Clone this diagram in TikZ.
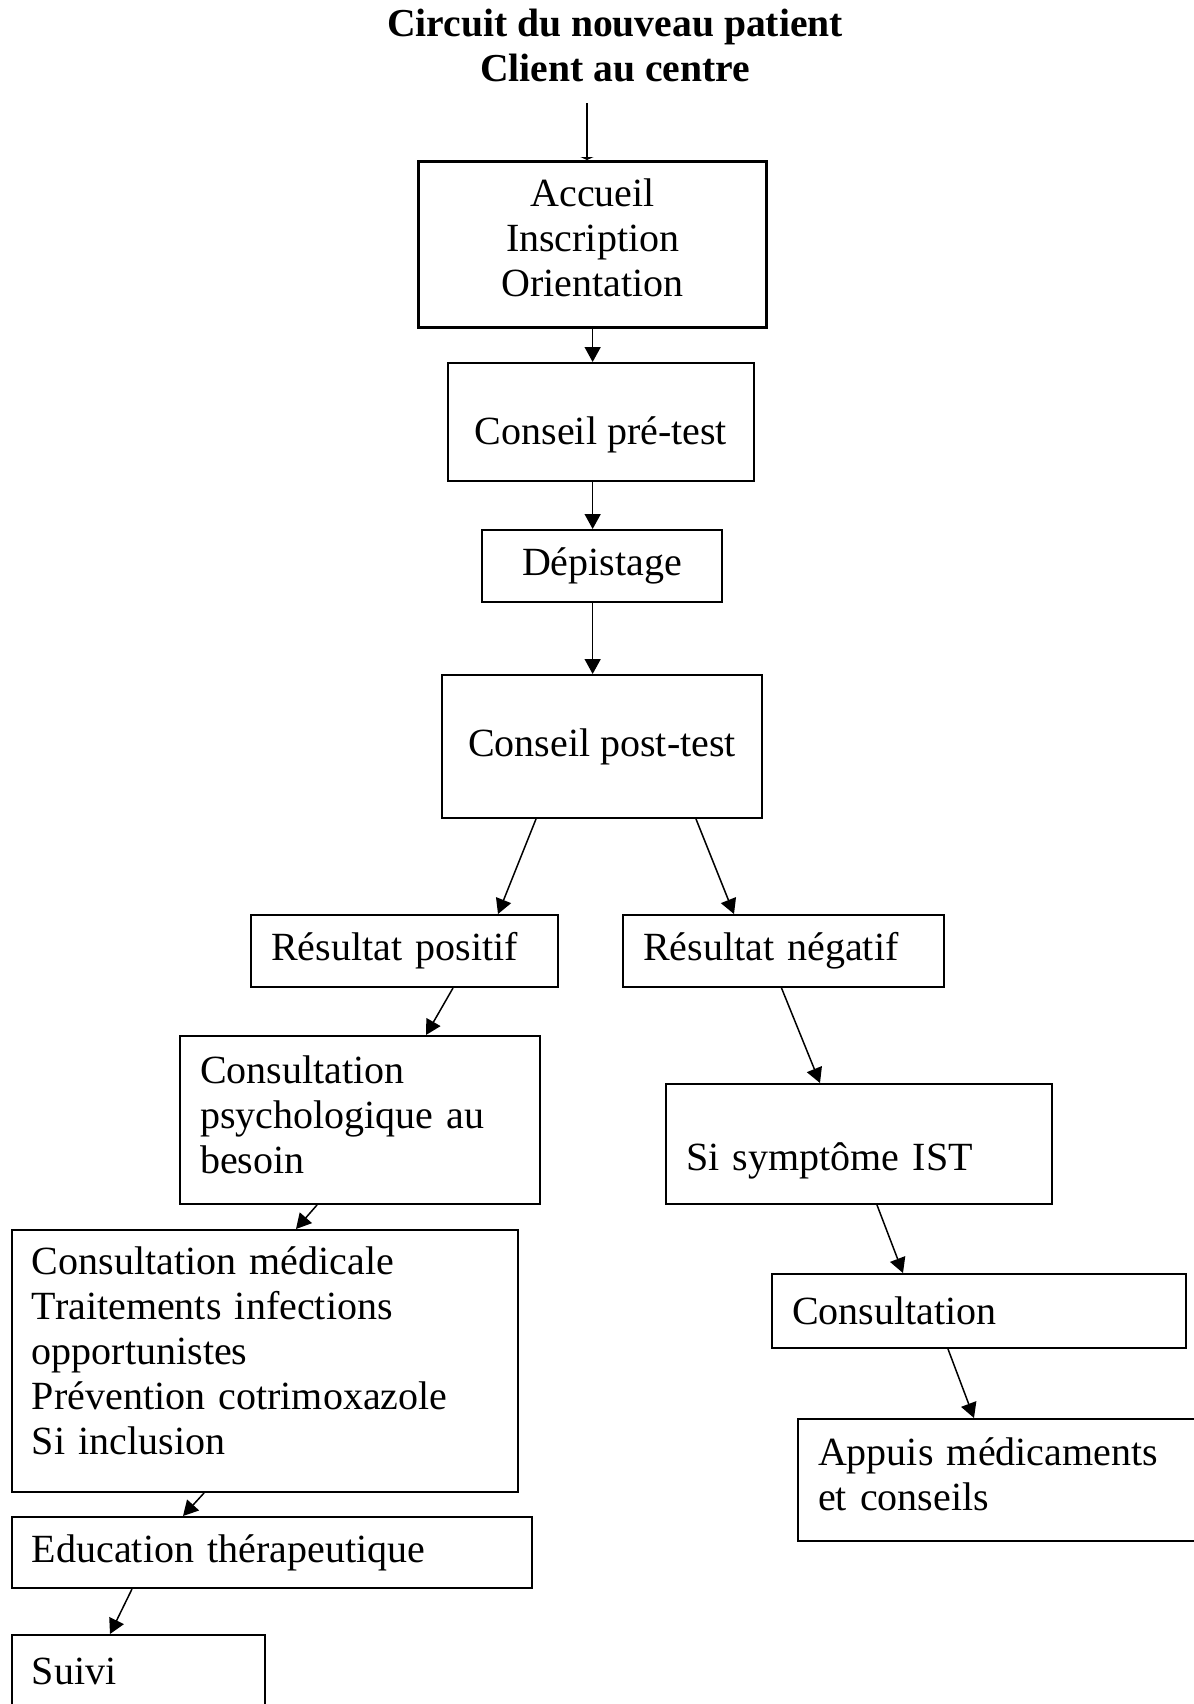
\documentclass[tikz,border=0pt]{standalone}
\usepackage{fontspec}
\setmainfont{Liberation Serif}
\usetikzlibrary{arrows.meta}

\begin{document}
\begin{tikzpicture}[x=0.5pt, y=-0.5pt,
		>={Triangle[length=7.5pt,width=8pt]},
		arr/.style={->, line width=0.75pt},
		titre/.style={font=\fontsize{19.8}{22.5}\selectfont\bfseries, inner sep=0pt, anchor=base},
		cbox/.style={draw, line width=1pt, inner sep=0pt, anchor=north west, align=center, font=\fontsize{20}{22.5}\selectfont},
		lbox/.style={draw, line width=1pt, inner xsep=10pt, inner ysep=0pt, anchor=north west, align=left, font=\fontsize{20}{22.5}\selectfont}]

				\useasboundingbox (0,0) rectangle (1194,1704);

				\node[titre] (t1) at (615,36) {Circuit du nouveau patient};
				\node[titre] (t2) at (615,81.5) {Client au centre};
				\coordinate (entree) at (587,103);

				% colonne centrale
				\node[cbox, line width=1.65pt, minimum width=174pt, minimum height=83pt, text height=52pt] (acc) at (417,160) {Accueil\\Inscription\\Orientation};
				\node[cbox, minimum width=153pt, minimum height=59pt, text height=27pt] (pre) at (447,362) {Conseil pré-test};
				\node[cbox, minimum width=120pt, minimum height=36pt] (dep) at (481,529) {Dépistage};
				\node[cbox, minimum width=160pt, minimum height=71.5pt] (post) at (441,674) {Conseil post-test};

				% branche positive
				\node[lbox, minimum width=153.5pt, text width=133.5pt, minimum height=36pt] (pos) at (250,914) {Résultat positif};
				\node[lbox, minimum width=180pt, text width=160pt, minimum height=84pt, text height=8.3pt] (psy) at (179,1035) {Consultation\\psychologique au\\besoin};
				\node[lbox, minimum width=253pt, text width=233pt, minimum height=131pt, text height=4pt] (med) at (11,1229) {Consultation médicale\\Traitements infections\\opportunistes\\Prévention cotrimoxazole\\Si inclusion};
				\node[lbox, minimum width=260pt, text width=240pt, minimum height=35.5pt] (edu) at (11,1516) {Education thérapeutique};
				\node[lbox, minimum width=126.5pt, text width=106.5pt, minimum height=36pt] (sui) at (11,1634) {Suivi};

				% branche negative
				\node[lbox, minimum width=160.5pt, text width=140.5pt, minimum height=36pt] (neg) at (622,914) {Résultat négatif};
				\node[lbox, minimum width=193pt, text width=173pt, minimum height=60pt, text height=30.3pt] (sym) at (665,1083) {Si symptôme IST};
				\node[lbox, minimum width=207pt, text width=187pt, minimum height=37pt] (con) at (771,1273) {Consultation};
				\node[lbox, minimum width=205pt, text width=185pt, minimum height=61pt, text height=8.3pt] (app) at (797,1418) {Appuis médicaments\\et conseils};

				\draw[line width=0.75pt, -{Triangle[length=1.5pt,width=6.5pt]}] (entree) -- (entree |- acc.north);
				\draw[arr] (acc.south) -- (acc.south |- pre.north);
				\draw[arr] (acc.south |- pre.south) -- (acc.south |- dep.north);
				\draw[arr] (acc.south |- dep.south) -- (acc.south |- post.north);
				\draw[arr] ([xshift=-33pt]post.south) -- ([xshift=46.75pt]pos.north);
				\draw[arr] ([xshift=47pt]post.south) -- ([xshift=-24.75pt]neg.north);
				\draw[arr] ([xshift=24.25pt]pos.south) -- ([xshift=33pt]psy.north);
				\draw[arr] ([xshift=-21.5pt]psy.south) -- ([xshift=15.5pt]med.north);
				\draw[arr] ([xshift=-30.5pt]med.south) -- ([xshift=-44.5pt]edu.north);
				\draw[arr] ([xshift=-70pt]edu.south) -- ([xshift=-14.25pt]sui.north);
				\draw[arr] ([xshift=-1pt]neg.south) -- ([xshift=-19.5pt]sym.north);
				\draw[arr] ([xshift=9pt]sym.south) -- ([xshift=-38pt]con.north);
				\draw[arr] ([xshift=-15.5pt]con.south) -- ([xshift=-14.5pt]app.north);

\end{tikzpicture}
\end{document}
